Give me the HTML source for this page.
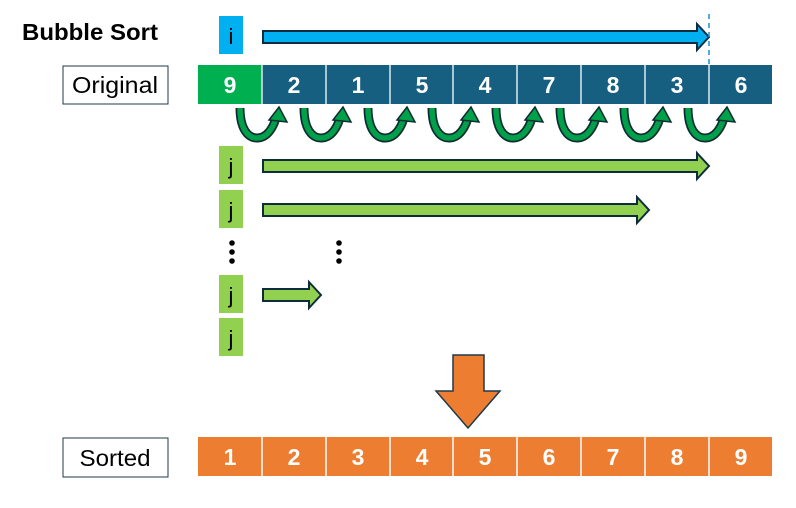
<!DOCTYPE html>
<html><head><meta charset="utf-8"><style>
html,body{margin:0;padding:0;background:#fff;}
svg{display:block;font-family:"Liberation Sans","DejaVu Sans",sans-serif;}
</style></head><body>
<svg width="796" height="508" viewBox="0 0 796 508" xmlns="http://www.w3.org/2000/svg">
<defs>
<g id="ca">
<path d="M240,108 C240,129 248,138 257,138 C267,138 273,128 276,118" fill="none" stroke="#0d2c33" stroke-width="9"/>
<path d="M240,108 C240,129 248,138 257,138 C267,138 273,128 276,118" fill="none" stroke="#00a04a" stroke-width="5.5"/>
<polygon points="269,120 279,107 287,122" fill="#00a04a" stroke="#0d2c33" stroke-width="1.5"/>
</g>
</defs>
<text x="22" y="40" font-size="23.5" font-weight="bold" fill="#000" textLength="136" lengthAdjust="spacingAndGlyphs">Bubble Sort</text>
<rect x="219" y="16" width="24" height="38" fill="#00b0f0"/>
<text x="231" y="44" font-size="22" text-anchor="middle" fill="#000">i</text>
<polygon points="263,31 697,31 697,24 709,37 697,50 697,43 263,43" fill="#00b0f0" stroke="#0d2c40" stroke-width="2"/>
<line x1="709" y1="14" x2="709" y2="68" stroke="#1b8fd0" stroke-width="1.5" stroke-dasharray="5,4"/>
<rect x="63" y="66" width="105" height="38" fill="#fff" stroke="#1f3a4a" stroke-width="1"/>
<text x="115" y="93" font-size="23" text-anchor="middle" textLength="86" lengthAdjust="spacingAndGlyphs">Original</text>
<g font-size="23" font-weight="bold" fill="#fff" text-anchor="middle">
<rect x="198" y="65" width="64" height="39" fill="#00b050"/>
<rect x="262" y="65" width="510" height="39" fill="#175f81"/>
<g stroke="#dfe8ee" stroke-width="1.5">
<line x1="262" y1="65" x2="262" y2="104"/><line x1="326" y1="65" x2="326" y2="104"/><line x1="390" y1="65" x2="390" y2="104"/><line x1="453" y1="65" x2="453" y2="104"/><line x1="517" y1="65" x2="517" y2="104"/><line x1="581" y1="65" x2="581" y2="104"/><line x1="645" y1="65" x2="645" y2="104"/><line x1="709" y1="65" x2="709" y2="104"/>
</g>
<text x="230" y="93">9</text><text x="294" y="93">2</text><text x="358" y="93">1</text><text x="422" y="93">5</text><text x="485" y="93">4</text><text x="549" y="93">7</text><text x="613" y="93">8</text><text x="677" y="93">3</text><text x="741" y="93">6</text>
</g>
<use href="#ca"/>
<use href="#ca" x="64"/>
<use href="#ca" x="128"/>
<use href="#ca" x="192"/>
<use href="#ca" x="256"/>
<use href="#ca" x="320"/>
<use href="#ca" x="384"/>
<use href="#ca" x="448"/>
<g fill="#92d050">
<rect x="219" y="146" width="24" height="38"/>
<rect x="219" y="190" width="24" height="38"/>
<rect x="219" y="275" width="24" height="38"/>
<rect x="219" y="318" width="24" height="38"/>
</g>
<g font-size="22" text-anchor="middle">
<text x="231" y="174">j</text><text x="231" y="218">j</text><text x="231" y="303">j</text><text x="231" y="346">j</text>
</g>
<g fill="#92d050" stroke="#0d2c40" stroke-width="2">
<polygon points="263,160 697,160 697,153 709,166 697,179 697,172 263,172"/>
<polygon points="263,204 637,204 637,197 649,210 637,223 637,216 263,216"/>
<polygon points="263,289 309,289 309,282 321,295 309,308 309,301 263,301"/>
</g>
<g fill="#000">
<circle cx="232" cy="243" r="2.8"/><circle cx="232" cy="252" r="2.8"/><circle cx="232" cy="261" r="2.8"/>
<circle cx="339" cy="243" r="2.8"/><circle cx="339" cy="252" r="2.8"/><circle cx="339" cy="261" r="2.8"/>
</g>
<polygon points="453,355 484,355 484,391 500,391 468,428 436,391 453,391" fill="#ed7d31" stroke="#1f3a4a" stroke-width="1.5"/>
<rect x="63" y="438" width="105" height="39" fill="#fff" stroke="#1f3a4a" stroke-width="1"/>
<text x="115" y="466" font-size="23" text-anchor="middle" textLength="71" lengthAdjust="spacingAndGlyphs">Sorted</text>
<rect x="198" y="437" width="574" height="39" fill="#ed7d31"/>
<g stroke="#fff" stroke-width="1.5">
<line x1="262" y1="437" x2="262" y2="476"/><line x1="326" y1="437" x2="326" y2="476"/><line x1="390" y1="437" x2="390" y2="476"/><line x1="453" y1="437" x2="453" y2="476"/><line x1="517" y1="437" x2="517" y2="476"/><line x1="581" y1="437" x2="581" y2="476"/><line x1="645" y1="437" x2="645" y2="476"/><line x1="709" y1="437" x2="709" y2="476"/>
</g>
<g font-size="23" font-weight="bold" fill="#fff" text-anchor="middle">
<text x="230" y="465">1</text><text x="294" y="465">2</text><text x="358" y="465">3</text><text x="422" y="465">4</text><text x="485" y="465">5</text><text x="549" y="465">6</text><text x="613" y="465">7</text><text x="677" y="465">8</text><text x="741" y="465">9</text>
</g>
</svg>
</body></html>
